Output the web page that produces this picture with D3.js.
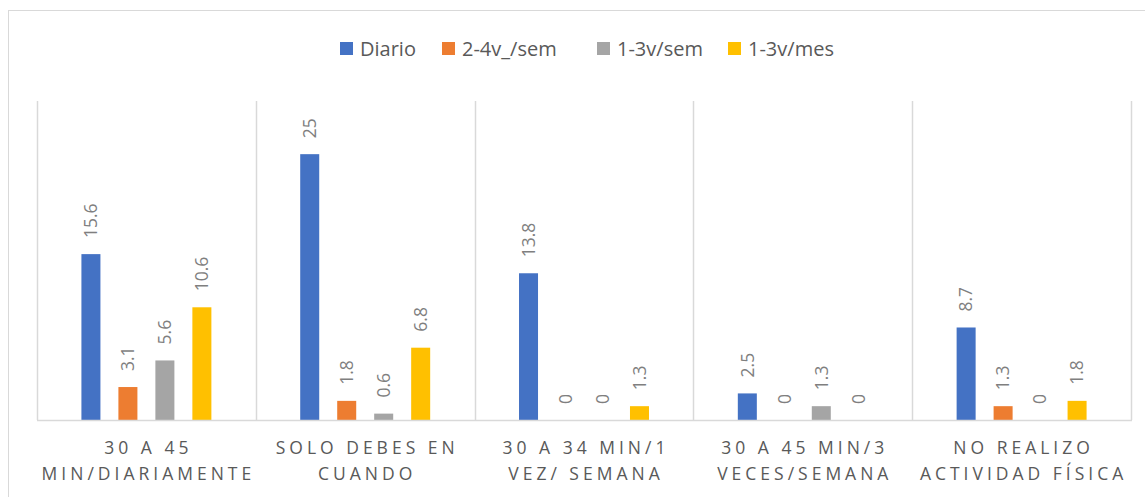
<!DOCTYPE html>
<html>
<head>
<meta charset="utf-8">
<script src="https://cdnjs.cloudflare.com/ajax/libs/d3/7.8.5/d3.min.js"></script>
<style>
  body { margin: 0; background: #fff; }
  text { font-family: 'Open Sans', sans-serif; }
</style>
</head>
<body>
<script>
var categories = [
  ['30 A 45', 'MIN/DIARIAMENTE'],
  ['SOLO DEBES EN', 'CUANDO'],
  ['30 A 34 MIN/1', 'VEZ/ SEMANA'],
  ['30 A 45 MIN/3', 'VECES/SEMANA'],
  ['NO REALIZO', 'ACTIVIDAD FÍSICA']
];
var seriesNames = ['Diario', '2-4v_/sem', '1-3v/sem', '1-3v/mes'];
var seriesColors = ['#4472c4', '#ed7d31', '#a5a5a5', '#ffc000'];
var diario = [15.6, 25, 13.8, 2.5, 8.7];
var semana24 = [3.1, 1.8, 0, 0, 1.3];
var semana13 = [5.6, 0.6, 0, 1.3, 0];
var mes13 = [10.6, 6.8, 1.3, 0, 1.8];

var allSeries = [diario, semana24, semana13, mes13];

var w = 1145, h = 497;
var plotLeft = 37, plotRight = 1131, plotTop = 101, base = 420;

var svg = d3.select('body').append('svg')
  .attr('width', w)
  .attr('height', h);

// chart border
svg.append('rect')
  .attr('x', 8.5).attr('y', 10.5)
  .attr('width', 1150).attr('height', 500)
  .attr('fill', 'none')
  .attr('stroke', '#d9d9d9');

var x0 = d3.scaleBand()
  .domain(d3.range(categories.length))
  .range([plotLeft, plotRight])
  .paddingInner(0.406)
  .paddingOuter(0.203);

var x1 = d3.scaleBand()
  .domain(d3.range(seriesNames.length))
  .range([0, x0.bandwidth()])
  .paddingInner(0.486)
  .paddingOuter(0);

var y = d3.scaleLinear().domain([0, 30]).range([base, plotTop]);

// separators between categories
var step = (plotRight - plotLeft) / categories.length;
svg.append('g').selectAll('line')
    .data(d3.range(categories.length + 1))
  .enter().append('line')
    .attr('x1', function(d) { return Math.round(plotLeft + d * step) + 0.5; })
    .attr('x2', function(d) { return Math.round(plotLeft + d * step) + 0.5; })
    .attr('y1', plotTop)
    .attr('y2', base)
    .attr('stroke', '#d9d9d9')
    .attr('stroke-width', 1.5);

var cells = [];
categories.forEach(function(c, ci) {
  allSeries.forEach(function(s, si) {
    cells.push({ ci: ci, si: si, v: s[ci] });
  });
});

svg.append('g').selectAll('rect')
    .data(cells)
  .enter().append('rect')
    .attr('x', function(d) { return x0(d.ci) + x1(d.si); })
    .attr('y', function(d) { return y(d.v); })
    .attr('width', x1.bandwidth())
    .attr('height', function(d) { return base - y(d.v); })
    .attr('fill', function(d) { return seriesColors[d.si]; });

// baseline
svg.append('line')
  .attr('x1', plotLeft).attr('x2', plotRight + 1)
  .attr('y1', base + 0.5).attr('y2', base + 0.5)
  .attr('stroke', '#d9d9d9')
  .attr('stroke-width', 1.5);

// value labels
svg.append('g').selectAll('text')
    .data(cells)
  .enter().append('text')
    .attr('transform', function(d) {
      var cx = x0(d.ci) + x1(d.si) + x1.bandwidth() / 2;
      return 'translate(' + cx + ',' + (y(d.v) - 16) + ') rotate(-90)';
    })
    .attr('dy', '0.36em')
    .attr('fill', '#7f7f7f')
    .style('font-size', '17.5px')
    .text(function(d) { return d.v; });

// category labels
var cat = svg.append('g').selectAll('text')
    .data(categories)
  .enter().append('text')
    .attr('y', 454)
    .attr('fill', '#595959')
    .style('font-size', '17.5px')
    .style('letter-spacing', '4px')
    .attr('text-anchor', 'middle');
cat.append('tspan')
  .attr('x', function(d, i) { return x0(i) + x0.bandwidth() / 2 + 2; })
  .text(function(d) { return d[0]; });
cat.append('tspan')
  .attr('x', function(d, i) { return x0(i) + x0.bandwidth() / 2 + 2; })
  .attr('dy', 26)
  .text(function(d) { return d[1]; });

// legend
var legendX = [340, 442, 597, 728];
var legend = svg.append('g');
seriesNames.forEach(function(name, i) {
  legend.append('rect')
    .attr('x', legendX[i]).attr('y', 42)
    .attr('width', 13).attr('height', 13)
    .attr('fill', seriesColors[i]);
  legend.append('text')
    .attr('x', legendX[i] + 20).attr('y', 56)
    .attr('fill', '#595959')
    .style('font-size', '20px')
    .text(name);
});
</script>
</body>
</html>
